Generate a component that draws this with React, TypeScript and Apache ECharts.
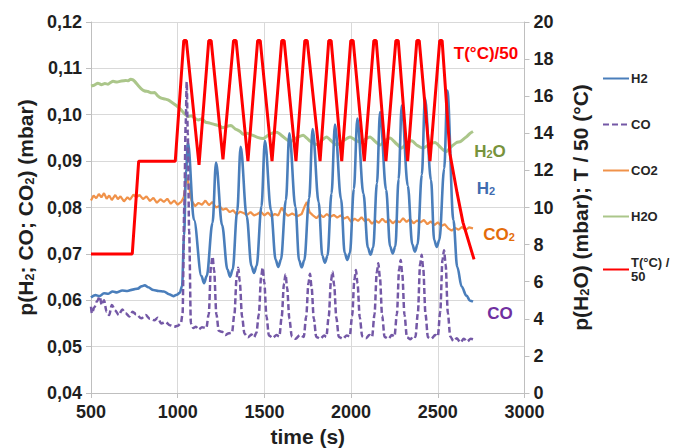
import React, { useEffect, useRef } from "react";
import * as echarts from "echarts";

const FONT = "'Liberation Sans', Arial, sans-serif";

const xTicks = { min: 500, max: 3000, interval: 500 };
const leftTicks = { min: 0.04, max: 0.12, interval: 0.01 };
const rightTicks = { min: 0, max: 20, interval: 2 };

const legendNames = ["H2", "CO", "CO2", "H2O", "T(°C) /\n50"];

// time (s), p(H2) (mbar)
const h2Data = [
  [500, 0.0606], [525, 0.0611], [550, 0.0609], [575, 0.0615], [600, 0.0614], [625, 0.0619], [650, 0.0617],
  [680, 0.0621], [710, 0.062], [740, 0.0623], [770, 0.0625], [790, 0.063], [810, 0.0632], [830, 0.0628],
  [860, 0.0622], [890, 0.062], [920, 0.0619], [950, 0.0613], [975, 0.0609], [995, 0.0612], [1012, 0.0616],
  [1025, 0.063], [1037, 0.074], [1048, 0.088], [1059, 0.094], [1094, 0.0773], [1137, 0.0652], [1152, 0.0637],
  [1167, 0.0652], [1201, 0.0767], [1221, 0.0897], [1256, 0.0762], [1287, 0.0666], [1302, 0.0651], [1317, 0.0666],
  [1343, 0.0791], [1363, 0.0931], [1398, 0.0781], [1425, 0.0674], [1440, 0.0659], [1455, 0.0674], [1483, 0.0802],
  [1503, 0.0944], [1538, 0.0794], [1565, 0.0687], [1580, 0.0672], [1595, 0.0687], [1624, 0.0816], [1644, 0.096],
  [1679, 0.0801], [1700, 0.0686], [1715, 0.0671], [1730, 0.0686], [1758, 0.082], [1778, 0.0969], [1813, 0.0811],
  [1834, 0.0696], [1849, 0.0681], [1864, 0.0696], [1887, 0.083], [1907, 0.0979], [1942, 0.0818], [1963, 0.0702],
  [1978, 0.0687], [1993, 0.0702], [2016, 0.084], [2036, 0.0992], [2071, 0.083], [2097, 0.0713], [2112, 0.0698],
  [2127, 0.0713], [2149, 0.0852], [2167, 0.1006], [2202, 0.0838], [2225, 0.0716], [2240, 0.0701], [2255, 0.0716],
  [2274, 0.0861], [2292, 0.102], [2327, 0.0847], [2353, 0.072], [2368, 0.0705], [2383, 0.072], [2408, 0.0871],
  [2426, 0.1036], [2461, 0.0859], [2479, 0.073], [2494, 0.0715], [2509, 0.073], [2537, 0.0884], [2555, 0.1052],
  [2590, 0.0773], [2612, 0.0672], [2638, 0.0629], [2665, 0.061], [2686, 0.0599], [2703, 0.0597],
];

// time (s), p(CO) (mbar)
const coData = [
  [500, 0.0586], [505, 0.0572], [520, 0.0585], [535, 0.0598], [550, 0.0608], [562, 0.059], [575, 0.06],
  [590, 0.0575], [605, 0.0568], [620, 0.059], [640, 0.0578], [660, 0.0568], [680, 0.058], [700, 0.0572],
  [720, 0.0565], [740, 0.0575], [760, 0.057], [790, 0.0561], [815, 0.0568], [840, 0.056], [865, 0.0557],
  [885, 0.0562], [905, 0.055], [930, 0.0553], [955, 0.0546], [980, 0.0543], [1000, 0.0545], [1018, 0.055],
  [1028, 0.057], [1038, 0.08], [1046, 0.098], [1052, 0.1071], [1058, 0.096], [1066, 0.075], [1076, 0.055],
  [1090, 0.054], [1105, 0.0543], [1120, 0.0537], [1140, 0.0542], [1165, 0.054], [1179, 0.057], [1192, 0.0674],
  [1201, 0.0694], [1210, 0.0664], [1223, 0.057], [1237, 0.0534], [1255, 0.0532], [1275, 0.0525], [1295, 0.0529],
  [1313, 0.053], [1327, 0.057], [1340, 0.065], [1349, 0.067], [1358, 0.064], [1371, 0.0565], [1385, 0.0528],
  [1405, 0.052], [1425, 0.0526], [1440, 0.052], [1454, 0.053], [1468, 0.057], [1481, 0.065], [1490, 0.067],
  [1499, 0.064], [1512, 0.0565], [1526, 0.0524], [1548, 0.0519], [1570, 0.0525], [1586, 0.0522], [1600, 0.0565],
  [1613, 0.0636], [1622, 0.0656], [1631, 0.0627], [1644, 0.056], [1658, 0.0522], [1680, 0.0517], [1705, 0.0525],
  [1727, 0.0521], [1741, 0.0565], [1754, 0.0637], [1763, 0.0657], [1772, 0.0628], [1785, 0.056], [1799, 0.0521],
  [1822, 0.0517], [1845, 0.0524], [1857, 0.0521], [1871, 0.0565], [1884, 0.0642], [1893, 0.0662], [1902, 0.0633],
  [1915, 0.0562], [1929, 0.0521], [1952, 0.0517], [1975, 0.0524], [1992, 0.0522], [2006, 0.0566], [2019, 0.0645],
  [2028, 0.0665], [2037, 0.0636], [2050, 0.0563], [2064, 0.0522], [2085, 0.0518], [2105, 0.0525], [2121, 0.0521],
  [2135, 0.057], [2148, 0.066], [2157, 0.068], [2166, 0.065], [2179, 0.0567], [2193, 0.0521], [2215, 0.0517],
  [2235, 0.0525], [2250, 0.0522], [2264, 0.057], [2277, 0.0667], [2286, 0.0687], [2295, 0.0657], [2308, 0.0568],
  [2322, 0.052], [2342, 0.0516], [2360, 0.0523], [2371, 0.0521], [2385, 0.0572], [2398, 0.0678], [2407, 0.0698],
  [2416, 0.0668], [2429, 0.057], [2443, 0.052], [2462, 0.0517], [2485, 0.0525], [2500, 0.0522], [2514, 0.0575],
  [2527, 0.0688], [2536, 0.0708], [2545, 0.0678], [2558, 0.0572], [2572, 0.0522], [2590, 0.0512], [2610, 0.0518],
  [2630, 0.0509], [2650, 0.0517], [2670, 0.0511], [2690, 0.0517], [2703, 0.0516],
];

// time (s), p(CO2) (mbar)
const co2Data = [
  [500, 0.0815], [515, 0.0826], [530, 0.082], [545, 0.0829], [560, 0.0822], [575, 0.0831], [590, 0.0819],
  [605, 0.0826], [620, 0.0816], [640, 0.0827], [655, 0.0818], [670, 0.0824], [690, 0.0813], [710, 0.0822],
  [725, 0.0817], [745, 0.0828], [760, 0.0822], [780, 0.0827], [800, 0.0818], [820, 0.0824], [840, 0.0814],
  [860, 0.0821], [880, 0.081], [900, 0.0818], [920, 0.0812], [940, 0.0819], [960, 0.0808], [980, 0.0815],
  [1000, 0.0806], [1020, 0.0812], [1035, 0.0822], [1047, 0.0855], [1055, 0.0864], [1065, 0.0845], [1080, 0.0815],
  [1100, 0.0803], [1120, 0.081], [1140, 0.0806], [1160, 0.0815], [1180, 0.0805], [1200, 0.0812], [1220, 0.08],
  [1240, 0.0803], [1260, 0.0795], [1280, 0.0798], [1300, 0.079], [1320, 0.0794], [1340, 0.0785], [1360, 0.0791],
  [1380, 0.0788], [1400, 0.0784], [1420, 0.079], [1440, 0.0783], [1460, 0.0786], [1480, 0.0791], [1500, 0.0783],
  [1520, 0.0789], [1540, 0.0781], [1560, 0.0786], [1580, 0.0783], [1600, 0.08], [1615, 0.079], [1635, 0.0782],
  [1660, 0.0787], [1690, 0.0781], [1715, 0.0786], [1735, 0.0805], [1745, 0.0812], [1760, 0.079], [1780, 0.0783],
  [1800, 0.0777], [1820, 0.0785], [1840, 0.0779], [1860, 0.0786], [1880, 0.078], [1900, 0.0784], [1920, 0.0778],
  [1940, 0.0783], [1960, 0.0776], [1980, 0.078], [2000, 0.0769], [2020, 0.0776], [2040, 0.0771], [2060, 0.0779],
  [2080, 0.077], [2100, 0.0775], [2120, 0.0765], [2140, 0.0772], [2160, 0.0767], [2180, 0.0776], [2200, 0.0768],
  [2220, 0.0774], [2240, 0.0766], [2260, 0.0772], [2280, 0.0768], [2300, 0.0777], [2320, 0.0769], [2340, 0.0775],
  [2360, 0.0766], [2380, 0.0772], [2400, 0.0768], [2420, 0.0773], [2440, 0.0764], [2460, 0.077], [2480, 0.0762],
  [2500, 0.0768], [2520, 0.076], [2540, 0.0764], [2560, 0.0755], [2580, 0.075], [2600, 0.0756], [2620, 0.0752],
  [2640, 0.0758], [2660, 0.0751], [2680, 0.0757], [2703, 0.0755],
];

// time (s), p(H2O) (mbar)
const h2oData = [
  [500, 16.55], [520, 16.6], [540, 16.7], [560, 16.62], [580, 16.68], [598, 16.65], [615, 16.75], [627, 16.8],
  [650, 16.76], [675, 16.82], [700, 16.85], [715, 16.83], [729, 16.92], [742, 16.88], [752, 16.8], [770, 16.6],
  [790, 16.4], [810, 16.28], [829, 16.25], [850, 16.18], [867, 16.2], [885, 16.02], [905, 15.9], [925, 15.85],
  [944, 15.8], [965, 15.68], [992, 15.5], [1021, 15.25], [1040, 15.05], [1059, 14.9], [1080, 14.95], [1100, 14.8],
  [1120, 14.72], [1140, 14.78], [1160, 14.6], [1185, 14.55], [1210, 14.48], [1235, 14.42], [1260, 14.3],
  [1285, 14.38], [1307, 14.42], [1330, 14.25], [1360, 14.1], [1377, 13.95], [1400, 14.0], [1430, 13.9],
  [1460, 13.78], [1492, 13.72], [1530, 13.95], [1571, 14.05], [1610, 13.8], [1648, 13.55], [1685, 13.75],
  [1723, 13.9], [1760, 13.6], [1802, 13.4], [1830, 13.62], [1859, 13.8], [1890, 13.55], [1917, 13.37],
  [1955, 13.6], [1994, 13.8], [2030, 13.6], [2061, 13.5], [2085, 13.7], [2109, 13.8], [2140, 13.55],
  [2167, 13.37], [2195, 13.6], [2224, 13.75], [2260, 13.45], [2292, 13.2], [2320, 13.45], [2349, 13.6],
  [2380, 13.35], [2415, 13.2], [2450, 13.4], [2484, 13.5], [2515, 13.25], [2547, 13.0], [2575, 13.25],
  [2609, 13.5], [2630, 13.55], [2650, 13.7], [2670, 13.85], [2686, 14.0], [2703, 14.1],
];

// time (s), T(°C)/50
const tempData = [
  [500, 7.5], [738, 7.5], [775, 12.5], [986, 12.5], [1035, 19.0], [1050, 19.0], [1123, 12.3], [1179, 19.0],
  [1193, 19.0], [1261, 12.6], [1322, 19.0], [1337, 19.0], [1405, 12.5], [1461, 19.0], [1476, 19.0], [1544, 12.5],
  [1600, 19.0], [1614, 19.0], [1682, 12.5], [1733, 19.0], [1747, 19.0], [1821, 12.5], [1871, 19.0], [1885, 19.0],
  [1946, 12.5], [1998, 19.0], [2012, 19.0], [2076, 12.5], [2131, 19.0], [2145, 19.0], [2201, 12.5], [2258, 19.0],
  [2272, 19.0], [2326, 12.5], [2379, 19.0], [2393, 19.0], [2455, 12.5], [2511, 19.0], [2525, 19.0], [2570, 12.9],
  [2611, 10.8], [2645, 9.2], [2709, 7.2],
];

const COLORS = {
  h2: "#4A7EBB",
  co: "#7458A6",
  co2: "#F0924A",
  h2o: "#ABC68A",
  t: "#FF0000",
};

const TEXT = "#1F1F1F";
const GRID = "#D9D9D9";
const AXIS = "#BFBFBF";

const subRich = (size: number, color: string) => ({
  n: { fontSize: size, fontWeight: "bold", color, fontFamily: FONT },
  s: { fontSize: Math.round(size * 0.62), fontWeight: "bold", color, fontFamily: FONT, verticalAlign: "bottom", lineHeight: 10 },
});

export default function App() {
  const ref = useRef<HTMLDivElement>(null);
  useEffect(() => {
    document.body.style.margin = "0";
    if (!ref.current) return;
    const chart = echarts.init(ref.current, null, { renderer: "svg" });
    const fmt = (v: number) => v.toFixed(2).replace(".", ",");
    const labelText = (text: string, x: number, y: number, color: string) => ({
      type: "text",
      x,
      y,
      z: 100,
      style: {
        text,
        rich: subRich(17, color),
        fill: color,
        align: "center",
        verticalAlign: "middle",
      },
    });
    chart.setOption({
      animation: false,
      textStyle: { fontFamily: FONT },
      grid: { left: 91, right: 150.5, top: 22, bottom: 55, containLabel: false, outerBoundsMode: "none" },
      legend: {
        orient: "vertical",
        left: 602,
        top: 72,
        padding: 0,
        itemWidth: 26,
        itemHeight: 14,
        itemGap: 33,
        itemStyle: { opacity: 0, borderWidth: 0, color: "transparent" },
        textStyle: { fontSize: 13, fontWeight: "bold", color: "#262626", fontFamily: FONT, padding: [0, 0, 0, -3] },
        data: [
          legendNames[0],
          legendNames[1],
          legendNames[2],
          legendNames[3],
          { name: legendNames[4], textStyle: { padding: [0, 0, -14, -3], lineHeight: 14 } },
        ],
      },
      xAxis: {
        type: "value",
        min: xTicks.min,
        max: xTicks.max,
        interval: xTicks.interval,
        name: "time (s)",
        nameLocation: "middle",
        nameGap: 23,
        nameTextStyle: { fontSize: 21, fontWeight: "bold", color: TEXT, fontFamily: FONT },
        axisLabel: { fontSize: 18, fontWeight: "bold", color: TEXT, margin: 10, formatter: (v: number) => String(v) },
        axisLine: { lineStyle: { color: AXIS } },
        axisTick: { show: true, length: 5, lineStyle: { color: AXIS } },
        splitLine: { show: true, lineStyle: { color: GRID } },
      },
      yAxis: [
        {
          type: "value",
          position: "left",
          min: leftTicks.min,
          max: leftTicks.max,
          interval: leftTicks.interval,
          name: "{n|p(H}{s|2}{n|; CO; CO}{s|2}{n|) (mbar)}",
          nameLocation: "middle",
          nameRotate: 90,
          nameGap: 47,
          nameTextStyle: { rich: subRich(21, TEXT) },
          axisLabel: { fontSize: 18, fontWeight: "bold", color: TEXT, margin: 9, formatter: fmt },
          axisLine: { show: true, lineStyle: { color: AXIS } },
          axisTick: { show: true, length: 5, lineStyle: { color: AXIS } },
          splitLine: { show: true, lineStyle: { color: GRID } },
        },
        {
          type: "value",
          position: "right",
          min: rightTicks.min,
          max: rightTicks.max,
          interval: rightTicks.interval,
          name: "{n|p(H}{s|2}{n|O) (mbar); T / 50 (°C)}",
          nameLocation: "middle",
          nameRotate: 90,
          nameGap: 45,
          nameTextStyle: { rich: subRich(21, TEXT) },
          axisLabel: { fontSize: 18, fontWeight: "bold", color: TEXT, margin: 9 },
          axisLine: { show: true, lineStyle: { color: AXIS } },
          axisTick: { show: true, length: 5, lineStyle: { color: AXIS } },
          splitLine: { show: false },
        },
      ],
      graphic: [
        labelText("{n|T(°C)/50}", 486, 53, "#FF0000"),
        labelText("{n|H}{s|2}{n|O}", 490, 151, "#77933C"),
        labelText("{n|H}{s|2}", 486, 188, "#3F6CB0"),
        labelText("{n|CO}{s|2}", 499, 234, "#E46C0A"),
        labelText("{n|CO}", 500, 313, "#7030A0"),
      ],
      series: [
        {
          name: legendNames[3],
          type: "line",
          yAxisIndex: 1,
          data: h2oData,
          symbol: "none",
          smooth: 0.2,
          lineStyle: { color: COLORS.h2o, width: 3 },
          itemStyle: { color: COLORS.h2o },
          z: 2,
        },
        {
          name: legendNames[2],
          type: "line",
          yAxisIndex: 0,
          data: co2Data,
          symbol: "none",
          lineStyle: { color: COLORS.co2, width: 2.2 },
          itemStyle: { color: COLORS.co2 },
          z: 3,
        },
        {
          name: legendNames[0],
          type: "line",
          yAxisIndex: 0,
          data: h2Data,
          symbol: "none",
          smooth: 0.35,
          smoothMonotone: "x",
          lineStyle: { color: COLORS.h2, width: 2.6 },
          itemStyle: { color: COLORS.h2 },
          z: 4,
        },
        {
          name: legendNames[1],
          type: "line",
          yAxisIndex: 0,
          data: coData,
          symbol: "none",
          smooth: 0.3,
          smoothMonotone: "x",
          lineStyle: { color: COLORS.co, width: 2.5, type: [6, 3] },
          itemStyle: { color: COLORS.co },
          z: 5,
        },
        {
          name: legendNames[4],
          type: "line",
          yAxisIndex: 1,
          data: tempData,
          symbol: "none",
          lineStyle: { color: COLORS.t, width: 3 },
          itemStyle: { color: COLORS.t },
          z: 6,
        },
      ],
    });
    return () => chart.dispose();
  }, []);
  return <div ref={ref} style={{ width: 675, height: 448 }} />;
}
